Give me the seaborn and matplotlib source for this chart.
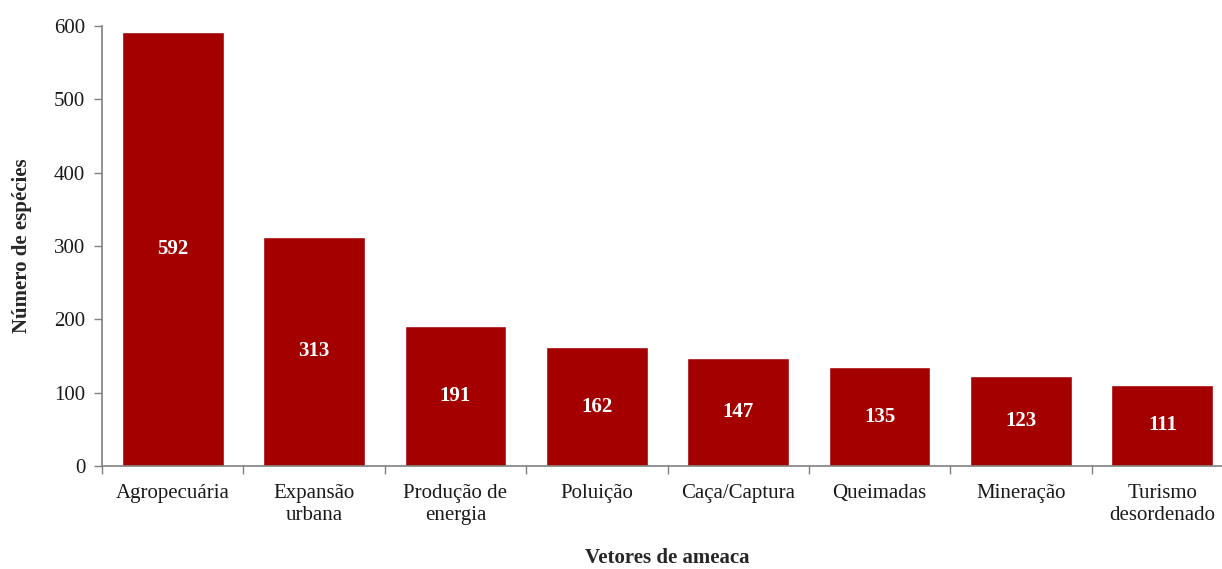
import matplotlib
matplotlib.use("Agg")
import matplotlib.pyplot as plt
import seaborn as sns
import pandas as pd
import numpy as np
from matplotlib.ticker import FixedLocator

categories = ["Agropecuária", "Expansão\nurbana", "Produção de\nenergia", "Poluição",
              "Caça/Captura", "Queimadas", "Mineração", "Turismo\ndesordenado"]
values = [592, 313, 191, 162, 147, 135, 123, 111]
yticks = [0, 100, 200, 300, 400, 500, 600]

sns.set_style("white")
plt.rcParams["font.family"] = ["Liberation Serif", "DejaVu Serif"]

df = pd.DataFrame({"cat": categories, "val": values})

fig = plt.figure(figsize=(12.22, 5.69), dpi=100)
ax = fig.add_axes([0.0835, 0.181, 0.9255, 0.773])
sns.barplot(data=df, x="cat", y="val", color="#A50000", saturation=1, width=0.72, ax=ax)

ax.set_ylim(0, 600)
ax.set_xlim(-0.5, len(categories) - 0.5)
ax.set_yticks(yticks)
ax.set_yticklabels([str(t) for t in yticks], fontsize=15, color="#1a1a1a")
ax.tick_params(axis="x", which="major", length=0, labelsize=15, pad=13, labelcolor="#1a1a1a")
ax.xaxis.set_minor_locator(FixedLocator(np.arange(-0.5, len(categories), 1.0)))
ax.tick_params(axis="x", which="minor", length=6, width=1, color="#808080", direction="out", bottom=True)
ax.tick_params(axis="y", length=6, width=1, color="#808080", direction="out", left=True, pad=6)

for s in ["top", "right"]:
    ax.spines[s].set_visible(False)
for s in ["left", "bottom"]:
    ax.spines[s].set_color("#808080")
    ax.spines[s].set_linewidth(1.2)

for i, v in enumerate(values):
    ax.text(i, v / 2, str(v), ha="center", va="center", color="white",
            fontsize=15, fontweight="bold")

ax.set_xlabel("Vetores de ameaca", fontsize=15, fontweight="bold", labelpad=17)
ax.set_ylabel("Número de espécies", fontsize=15, fontweight="bold", labelpad=16)

fig.savefig("out.png", dpi=100)
